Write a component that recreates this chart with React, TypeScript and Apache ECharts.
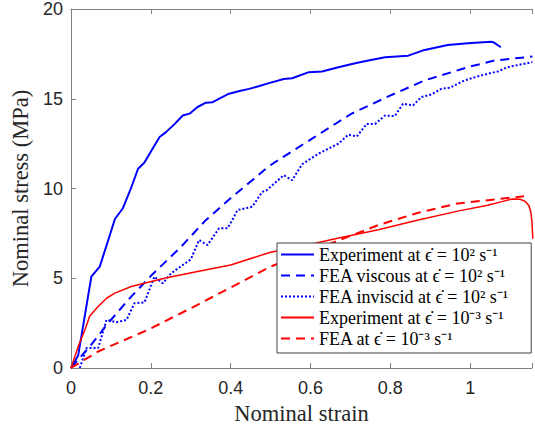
import React, { useEffect, useRef } from "react";
import * as echarts from "echarts";

const seriesNames = [
  "Experiment at ϵ̇ = 10² s⁻¹",
  "FEA viscous at ϵ̇ = 10² s⁻¹",
  "FEA inviscid at ϵ̇ = 10² s⁻¹",
  "Experiment at ϵ̇ = 10⁻³ s⁻¹",
  "FEA at ϵ̇ = 10⁻³ s⁻¹",
];

const xTickValues = [0, 0.2, 0.4, 0.6, 0.8, 1];
const yTickValues = [0, 5, 10, 15, 20];

const blueExpX = [0, 0.018, 0.051, 0.072, 0.093, 0.11, 0.13, 0.15, 0.168, 0.184, 0.204, 0.222, 0.238, 0.26, 0.28, 0.297, 0.317, 0.338, 0.355, 0.375, 0.396, 0.42, 0.446, 0.47, 0.496, 0.533, 0.554, 0.596, 0.629, 0.67, 0.712, 0.745, 0.787, 0.845, 0.886, 0.944, 0.994, 1.052, 1.058, 1.077];
const blueExpY = [0, 0.7, 5.09, 5.65, 7.1, 8.3, 8.9, 10.0, 11.1, 11.45, 12.2, 12.87, 13.14, 13.6, 14.07, 14.17, 14.54, 14.78, 14.81, 15.05, 15.28, 15.42, 15.55, 15.7, 15.87, 16.1, 16.14, 16.48, 16.52, 16.76, 16.98, 17.13, 17.31, 17.4, 17.72, 18.0, 18.09, 18.18, 18.15, 17.87];

const blueViscX = [0, 0.047, 0.093, 0.151, 0.201, 0.276, 0.336, 0.404, 0.454, 0.496, 0.604, 0.703, 0.795, 0.886, 0.994, 1.061, 1.156];
const blueViscY = [0, 1.2, 2.5, 3.98, 5.15, 6.76, 8.2, 9.54, 10.46, 11.25, 12.78, 14.17, 15.13, 16.02, 16.76, 17.13, 17.35];

const blueInvX = [0.022, 0.039, 0.068, 0.089, 0.114, 0.139, 0.159, 0.184, 0.209, 0.23, 0.251, 0.3, 0.321, 0.342, 0.371, 0.392, 0.404, 0.417, 0.454, 0.479, 0.49, 0.533, 0.554, 0.579, 0.62, 0.67, 0.695, 0.716, 0.741, 0.762, 0.787, 0.811, 0.832, 0.857, 0.878, 0.903, 0.928, 0.949, 0.986, 1.027, 1.069, 1.094, 1.156];
const blueInvY = [0, 1.11, 1.11, 2.68, 2.55, 2.68, 3.61, 3.65, 5.09, 4.72, 5.28, 6.05, 7.13, 6.85, 7.78, 7.78, 8.24, 8.8, 8.98, 9.81, 9.9, 10.74, 10.46, 11.35, 11.94, 12.5, 13.0, 12.9, 13.6, 13.6, 14.07, 14.03, 14.72, 14.63, 15.1, 15.24, 15.55, 15.61, 16.02, 16.3, 16.52, 16.76, 17.04];

const redExpX = [0, 0.018, 0.035, 0.047, 0.068, 0.09, 0.11, 0.151, 0.234, 0.317, 0.4, 0.5, 0.612, 0.662, 0.77, 0.87, 0.969, 1.044, 1.08, 1.106, 1.125, 1.138, 1.147, 1.152, 1.155, 1.157];
const redExpY = [0, 1.2, 2.13, 2.9, 3.43, 3.9, 4.17, 4.54, 5.0, 5.37, 5.74, 6.45, 6.95, 7.2, 7.7, 8.24, 8.74, 9.07, 9.27, 9.42, 9.4, 9.28, 9.05, 8.7, 8.1, 7.2];

const redFeaX = [0, 0.068, 0.193, 0.317, 0.5, 0.77, 0.87, 0.969, 1.061, 1.135];
const redFeaY = [0, 0.92, 2.13, 3.52, 5.65, 7.96, 8.65, 9.17, 9.39, 9.57];

const pairs = (xs: number[], ys: number[]) => xs.map((x, i) => [x, ys[i]]);

export default function App() {
  const ref = useRef<HTMLDivElement>(null);
  useEffect(() => {
    if (!ref.current) return;
    const chart = echarts.init(ref.current, undefined, { renderer: "svg" });
    const axisColor = "#808080";
    const labelColor = "#262626";
    const fmtX = (v: number) => {
      const hit = xTickValues.find((t) => Math.abs(t - v) < 1e-6);
      return hit === undefined ? "" : String(hit);
    };
    const fmtY = (v: number) => {
      const hit = yTickValues.find((t) => Math.abs(t - v) < 1e-6);
      return hit === undefined ? "" : String(hit);
    };
    chart.setOption({
      animation: false,
      backgroundColor: "#ffffff",
      grid: { left: 71, right: 0, top: 8, bottom: 63, containLabel: false },
      xAxis: [
        {
          type: "value",
          min: 0,
          max: 1.155,
          interval: 0.2,
          position: "bottom",
          name: "Nominal strain",
          nameLocation: "middle",
          nameGap: 30,
          nameTextStyle: { fontFamily: "Liberation Serif", fontSize: 22.5, color: labelColor },
          axisLine: { show: true, lineStyle: { color: axisColor, width: 1 } },
          axisTick: { show: true, inside: true, length: 5, lineStyle: { color: axisColor } },
          axisLabel: { formatter: fmtX, fontFamily: "Liberation Sans", fontSize: 18, color: labelColor, margin: 11 },
          splitLine: { show: false },
        },
        {
          type: "value",
          min: 0,
          max: 1.155,
          interval: 0.2,
          position: "top",
          axisLine: { show: true, lineStyle: { color: axisColor, width: 1 } },
          axisTick: { show: true, inside: true, length: 5, lineStyle: { color: axisColor } },
          axisLabel: { show: false },
          splitLine: { show: false },
        },
      ],
      yAxis: {
        type: "value",
        min: 0,
        max: 20,
        interval: 5,
        name: "Nominal stress (MPa)",
        nameLocation: "middle",
        nameGap: 34,
        nameTextStyle: { fontFamily: "Liberation Serif", fontSize: 22.5, color: labelColor },
        axisLine: { show: true, lineStyle: { color: axisColor, width: 1 } },
        axisTick: { show: true, inside: true, length: 5, lineStyle: { color: axisColor } },
        axisLabel: { formatter: fmtY, fontFamily: "Liberation Sans", fontSize: 18, color: labelColor, margin: 8 },
        splitLine: { show: false },
      },
      legend: {
        orient: "vertical",
        left: 277,
        top: 243,
        itemWidth: 33,
        itemHeight: 14,
        itemGap: 2,
        padding: [2, 22, 5, 3],
        borderColor: "#404040",
        borderWidth: 1,
        backgroundColor: "#ffffff",
        itemStyle: { opacity: 0, borderWidth: 0 },
        textStyle: { fontFamily: "Liberation Serif", fontSize: 18, color: "#000000", lineHeight: 19 },
        data: seriesNames,
      },
      series: [
        {
          name: seriesNames[0],
          type: "line",
          data: pairs(blueExpX, blueExpY),
          symbol: "none",
          lineStyle: { color: "#0000ff", width: 2 },
          itemStyle: { color: "#0000ff" },
        },
        {
          name: seriesNames[1],
          type: "line",
          data: pairs(blueViscX, blueViscY),
          symbol: "none",
          lineStyle: { color: "#0000ff", width: 2, type: [9, 6] },
          itemStyle: { color: "#0000ff" },
        },
        {
          name: seriesNames[2],
          type: "line",
          data: pairs(blueInvX, blueInvY),
          symbol: "none",
          lineStyle: { color: "#0000ff", width: 2, type: [2, 2] },
          itemStyle: { color: "#0000ff" },
        },
        {
          name: seriesNames[3],
          type: "line",
          data: pairs(redExpX, redExpY),
          symbol: "none",
          lineStyle: { color: "#ff0000", width: 1.5 },
          itemStyle: { color: "#ff0000" },
        },
        {
          name: seriesNames[4],
          type: "line",
          data: pairs(redFeaX, redFeaY),
          symbol: "none",
          lineStyle: { color: "#ff0000", width: 2, type: [9, 6] },
          itemStyle: { color: "#ff0000" },
        },
      ],
    });
    return () => chart.dispose();
  }, []);
  return (
    <div
      ref={ref}
      style={{ position: "fixed", left: 0, top: 0, width: 535, height: 431, background: "#fff" }}
    />
  );
}
